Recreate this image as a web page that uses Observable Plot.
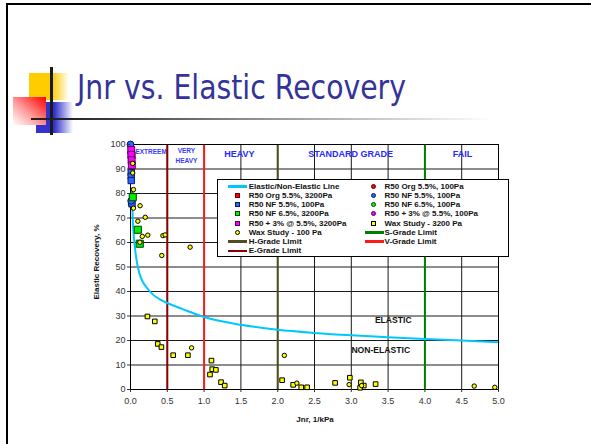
<!DOCTYPE html>
<html><head><meta charset="utf-8">
<script src="https://cdn.jsdelivr.net/npm/d3@7"></script>
<script src="https://cdn.jsdelivr.net/npm/@observablehq/plot@0.6"></script>
<style>
html,body{margin:0;padding:0;background:#fff;width:591px;height:444px;overflow:hidden;}
#page{position:relative;width:591px;height:444px;overflow:hidden;background:#fff;font-family:"Liberation Sans",Arial,sans-serif;}
#page svg{position:absolute;left:0;top:0;}
.abs{position:absolute;}
#slideframe{left:6px;top:3px;width:640px;height:500px;border:2px solid #000;box-sizing:border-box;}
#title{left:77px;top:70px;font-family:"DejaVu Sans",sans-serif;font-size:34px;line-height:34px;color:#333399;white-space:nowrap;transform-origin:0 0;}
#sqY{left:29px;top:73px;width:40px;height:27px;background:linear-gradient(to right,#ffcc00 58%,rgba(255,255,255,0));}
#sqB{left:36px;top:102px;width:37px;height:31px;background:linear-gradient(to right,#3333cc 50%,rgba(255,255,255,0));}
#sqR{left:13px;top:97px;width:33px;height:28px;background:linear-gradient(to bottom left,#ff0000 0%,#ff9a9a 55%,#ffffff 100%);}
#lineV{left:50px;top:67px;width:3px;height:68px;background:#1a1a1a;}
#lineH{left:31px;top:118px;width:462px;height:2px;background:linear-gradient(to right,#222 8%,#888 45%,rgba(255,255,255,0));}
#legend{left:217px;top:179px;width:292px;height:78px;border:1px solid #000;background:#fff;box-sizing:border-box;z-index:5;}
#legend .t{position:absolute;font-weight:bold;font-size:8px;line-height:9px;color:#111;white-space:nowrap;}
#legend .sw{position:absolute;box-sizing:border-box;}
#ylab{left:96px;top:262px;transform:translate(-50%,-50%) rotate(-90deg);font-weight:bold;font-size:8px;color:#111;white-space:nowrap;}
#xlab{left:315px;top:419px;transform:translate(-50%,-50%);font-weight:bold;font-size:8px;color:#111;white-space:nowrap;}
</style></head>
<body><div id="page">
<div id="slideframe" class="abs"></div>
<div id="sqY" class="abs"></div>
<div id="sqB" class="abs"></div>
<div id="sqR" class="abs"></div>
<div id="lineV" class="abs"></div>
<div id="lineH" class="abs"></div>
<div id="title" class="abs">Jnr vs. Elastic Recovery</div>
</div>
<script>
// ---------- data ----------
const xTicks = [0, 0.5, 1, 1.5, 2, 2.5, 3, 3.5, 4, 4.5, 5];
const yTicks = [0, 10, 20, 30, 40, 50, 60, 70, 80, 90, 100];

const curveJnr = [0.018, 0.03, 0.064, 0.12, 0.25, 0.43, 0.5, 0.71, 1, 1.5, 2, 2.5, 3, 3.5, 4, 4.5, 5];
const curveER  = [82, 70, 57, 47.5, 40.5, 36.3, 35.3, 32.8, 29.6, 26.4, 24.4, 23.1, 22.1, 21.3, 20.6, 20.0, 19.3];

const limitJnr   = [0.5, 1, 2, 4];
const limitNames = ["E-Grade Limit", "V-Grade Limit", "H-Grade Limit", "S-Grade Limit"];

const r50Org3200 = [[0.015, 95.5]];
const r50Org100  = [[0.015, 93.5]];
const r50NF55_3200 = [[0.01, 88.5], [0.01, 87.0], [0.01, 85.3], [0.015, 76.5], [0.02, 75.8]];
const r50NF55_100  = [[0, 100], [0.01, 77]];
const r50NF65_3200 = [[0.031, 78.5], [0.10, 65.2], [0.126, 59.5]];
const r50NF65_100  = [[0.03, 79]];
const r50p3_3200 = [[0.01, 97.8], [0.012, 95.8], [0.015, 93.6], [0.018, 91.5]];
const r50p3_100  = [[0.01, 96.5]];
const wax100 = [[0.03, 92.3], [0.03, 88.4], [0.04, 81.6], [0.04, 74.0], [0.13, 75.0], [0.10, 68.7], [0.20, 70.3],
  [0.16, 62.5], [0.235, 63.0], [0.44, 62.8], [0.47, 63.1], [0.127, 60.1], [0.425, 54.7], [0.81, 58.1],
  [0.83, 17.0], [2.09, 13.9], [2.26, 2.6], [2.97, 2.0], [3.14, 1.6], [4.67, 1.4], [4.95, 0.9]];
const wax3200 = [[0.23, 29.8], [0.33, 27.8], [0.37, 18.6], [0.42, 17.3], [0.58, 14.0], [0.78, 14.0],
  [1.10, 11.8], [1.08, 6.1], [1.11, 8.3], [1.16, 8.0], [1.23, 3.0], [1.28, 1.6], [2.06, 3.8], [2.21, 1.9],
  [2.32, 0.9], [2.40, 0.9], [2.78, 2.7], [2.98, 4.8], [3.13, 2.9], [3.12, 0.7], [3.17, 1.6], [3.33, 2.2]];

const zoneNames = ["EXTREEM", "VERY\nHEAVY", "HEAVY", "STANDARD GRADE", "FAIL"];
const zoneJnr   = [0.28, 0.76, 1.48, 2.99, 4.51];
const zoneER    = [97.2, 95.9, 95.9, 95.9, 95.9];

const regionNames = ["ELASTIC", "NON-ELASTIC"];
const regionJnr   = [3.57, 3.40];
const regionER    = [28.4, 16.2];

// ---------- styles ----------
const limitColors = {"E-Grade Limit": "#8b0000", "V-Grade Limit": "#ff1a1a", "H-Grade Limit": "#4d4d1f", "S-Grade Limit": "#008000"};
const series = [
  {name: "R50 Org 5.5%, 3200Pa", data: r50Org3200, symbol: "square", fill: "#ff0000", stroke: "#600000", r: 3.8},
  {name: "R50 Org 5.5%, 100Pa",  data: r50Org100,  symbol: "circle", fill: "#ff0000", stroke: "#600000", r: 3.2},
  {name: "R50 NF 6.5%, 100Pa",   data: r50NF65_100, symbol: "circle", fill: "#00ff00", stroke: "#004400", r: 3.2},
  {name: "R50 NF 5.5%, 100Pa",   data: r50NF55_3200, symbol: "square", fill: "#3366ff", stroke: "#001a66", r: 3.6},
  {name: "R50 NF 5.5%, 100Pa ",  data: r50NF55_100, symbol: "circle", fill: "#3366ff", stroke: "#001a66", r: 3.4},
  {name: "R50 NF 6.5%, 3200Pa",  data: r50NF65_3200, symbol: "square", fill: "#00ee00", stroke: "#004400", r: 4.0},
  {name: "R50 + 3% @ 5.5%, 100Pa", data: r50p3_100, symbol: "circle", fill: "#ff00ff", stroke: "#550055", r: 3.2},
  {name: "R50 + 3% @ 5.5%, 3200Pa", data: r50p3_3200, symbol: "square", fill: "#ff00ff", stroke: "#550055", r: 3.9},
  {name: "Wax Study - 3200 Pa", data: wax3200, symbol: "square", fill: "#ffff00", stroke: "#000", r: 2.6},
  {name: "Wax Study - 100 Pa",  data: wax100,  symbol: "circle", fill: "#ffff00", stroke: "#000", r: 2.2}
];

const curve = curveJnr.map((j, i) => ({jnr: j, er: curveER[i]}));
const zones = zoneNames.map((n, i) => ({name: n, jnr: zoneJnr[i], er: zoneER[i]}));
const regions = regionNames.map((n, i) => ({name: n, jnr: regionJnr[i], er: regionER[i]}));
const limits = limitNames.map((n, i) => ({name: n, jnr: limitJnr[i]}));

const font = "Liberation Sans, Arial, sans-serif";
const chart = Plot.plot({
  width: 591, height: 444,
  marginLeft: 130, marginRight: 93, marginTop: 144, marginBottom: 55,
  x: {domain: [0, 5]},
  y: {domain: [0, 100]},
  style: {background: "transparent", fontFamily: font, overflow: "visible"},
  marks: [
    Plot.gridX(xTicks, {stroke: "#1a1a1a", strokeOpacity: 1}),
    Plot.gridY(yTicks, {stroke: "#1a1a1a", strokeOpacity: 1}),
    Plot.text(zones.filter(d => d.name === "EXTREEM" || d.name.startsWith("VERY")), {x: "jnr", y: "er", text: "name", fill: "#3a3aff", fontSize: 6.5, fontWeight: "bold", lineHeight: 1.5, ariaLabel: "boxed"}),
    Plot.text(zones.filter(d => !(d.name === "EXTREEM" || d.name.startsWith("VERY"))), {x: "jnr", y: "er", text: "name", fill: "#2828ff", fontSize: 9, fontWeight: "bold", ariaLabel: "boxed"}),
    Plot.text(regions, {x: "jnr", y: "er", text: "name", fill: "#111", fontSize: 8.6, fontWeight: "bold", ariaLabel: "boxed"}),
    ...limits.map(l => Plot.ruleX([l], {x: "jnr", stroke: limitColors[l.name], strokeWidth: 2})),
    Plot.line(curve, {x: "jnr", y: "er", stroke: "#00c8ff", strokeWidth: 2, curve: "monotone-x"}),
    Plot.frame({stroke: "#000"}),
    ...series.map(s => Plot.dot(s.data, {x: d => d[0], y: d => d[1], symbol: s.symbol, r: s.r, fill: s.fill, stroke: s.stroke, strokeWidth: 1})),
    Plot.axisX(xTicks, {tickFormat: d3.format(".1f"), tickSize: 3, tickPadding: 5, fontSize: 9, color: "#333", label: null}),
    Plot.axisY(yTicks, {tickSize: 3, tickPadding: 2, fontSize: 9, color: "#333", label: null})
  ]
});
const page = document.getElementById("page");
page.insertBefore(chart, document.getElementById("title").nextSibling);

// white boxes behind the boxed labels
chart.querySelectorAll('g[aria-label="boxed"] text').forEach(t => {
  const b = t.getBBox();
  const r = document.createElementNS("http://www.w3.org/2000/svg", "rect");
  r.setAttribute("x", b.x - 3); r.setAttribute("y", b.y - 1.5);
  r.setAttribute("width", b.width + 6); r.setAttribute("height", b.height + 3);
  r.setAttribute("fill", "#fff"); r.setAttribute("stroke", "none");
  if (t.getAttribute("transform")) r.setAttribute("transform", t.getAttribute("transform"));
  t.parentNode.insertBefore(r, t);
});

// axis titles
const ylab = document.createElement("div"); ylab.id = "ylab"; ylab.className = "abs"; ylab.textContent = "Elastic Recovery, %"; page.appendChild(ylab);
const xlab = document.createElement("div"); xlab.id = "xlab"; xlab.className = "abs"; xlab.textContent = "Jnr, 1/kPa"; page.appendChild(xlab);

// legend
const legendLeft = [
  {label: "Elastic/Non-Elastic Line", kind: "line", color: "#00c8ff"},
  {label: series[0].name, kind: "square", color: series[0].fill, stroke: series[0].stroke},
  {label: series[3].name.trim(), kind: "square", color: series[3].fill, stroke: series[3].stroke},
  {label: series[5].name, kind: "square", color: series[5].fill, stroke: series[5].stroke},
  {label: series[7].name, kind: "square", color: series[7].fill, stroke: series[7].stroke},
  {label: series[9].name, kind: "circle", color: series[9].fill, stroke: series[9].stroke},
  {label: limitNames[2], kind: "line", color: limitColors[limitNames[2]]},
  {label: limitNames[0], kind: "line", color: limitColors[limitNames[0]]}
];
const legendRight = [
  {label: series[1].name, kind: "circle", color: series[1].fill, stroke: series[1].stroke},
  {label: series[4].name.trim(), kind: "circle", color: series[4].fill, stroke: series[4].stroke},
  {label: series[2].name, kind: "circle", color: series[2].fill, stroke: series[2].stroke},
  {label: series[6].name, kind: "circle", color: series[6].fill, stroke: series[6].stroke},
  {label: series[8].name, kind: "square", color: series[8].fill, stroke: series[8].stroke},
  {label: limitNames[3], kind: "line", color: limitColors[limitNames[3]]},
  {label: limitNames[1], kind: "line", color: limitColors[limitNames[1]]}
];
const legend = document.createElement("div"); legend.id = "legend"; legend.className = "abs";
function addItems(items, lineX, symX, textX) {
  items.forEach((it, i) => {
    const cy = 6.2 + 9.2 * i;
    const sw = document.createElement("div"); sw.className = "sw";
    if (it.kind === "line") {
      Object.assign(sw.style, {left: lineX + "px", top: (cy - 1) + "px", width: "19px", height: "2.5px", background: it.color});
    } else {
      Object.assign(sw.style, {left: (symX - 2.5) + "px", top: (cy - 2.5) + "px", width: "5px", height: "5px", background: it.color,
        border: "1px solid " + (it.stroke || "#000"), borderRadius: it.kind === "circle" ? "50%" : "0"});
    }
    legend.appendChild(sw);
    const t = document.createElement("div"); t.className = "t"; t.textContent = it.label;
    Object.assign(t.style, {left: textX + "px", top: (cy - 4.5) + "px"});
    legend.appendChild(t);
  });
}
addItems(legendLeft, 10, 19.7, 30.7);
addItems(legendRight, 147, 155.7, 166.5);
page.appendChild(legend);

// fit title width to the reference
const title = document.getElementById("title");
const tw = title.getBoundingClientRect().width;
title.style.transform = `scaleX(${329 / tw})`;
</script>
</body></html>
